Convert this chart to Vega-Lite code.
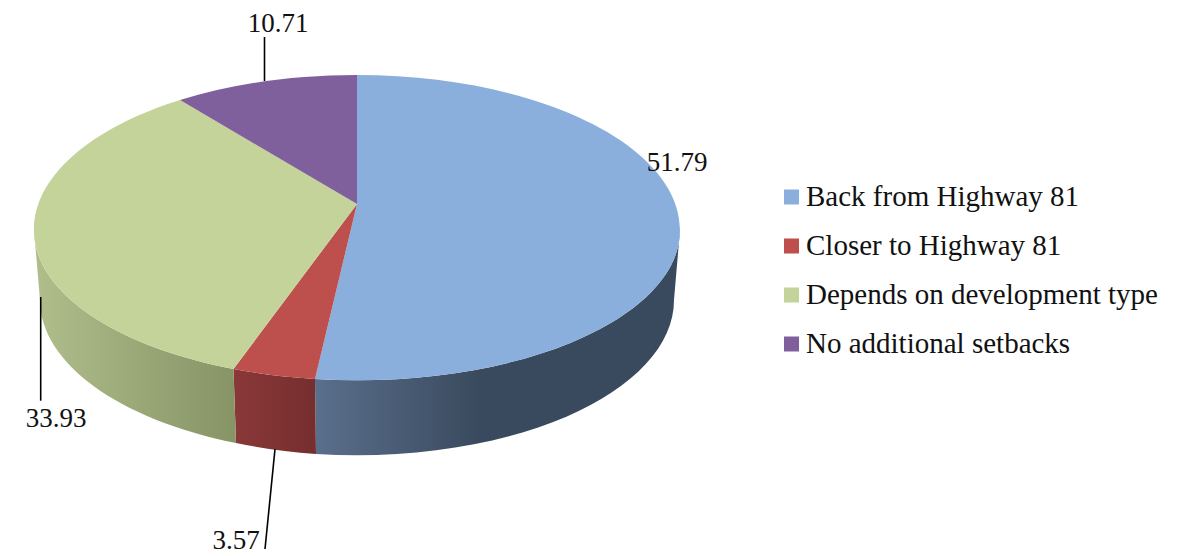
{"$schema":"https://vega.github.io/schema/vega-lite/v6.json","width":1189,"height":556,"padding":0,"autosize":{"type":"none"},"background":"white","view":{"stroke":null},"config":{"font":"Liberation Serif"},"data":{"values":[{"category":"Back from Highway 81","value":51.79},{"category":"Closer to Highway 81","value":3.57},{"category":"Depends on development type","value":33.93},{"category":"No additional setbacks","value":10.71}]},"layer":[
{"transform":[{"filter":"datum.category==='Back from Highway 81'"}],"mark":{"type":"point","filled":true,"opacity":1,"size":4,"shape":"M-279.5,101A323,150 0 0 0 85.5,-48L79.5,22A317,155 0 0 1 -278.5,176Z","fill":{"x1":0,"y1":0,"x2":1,"y2":0,"gradient":"linear","stops":[{"offset":0,"color":"#5A6F8C"},{"offset":0.45,"color":"#3A4A5E"},{"offset":1,"color":"#3A4A5E"}]}}},
{"transform":[{"filter":"datum.category==='Closer to Highway 81'"}],"mark":{"type":"point","filled":true,"opacity":1,"size":4,"shape":"M-361,91A323,150 0 0 0 -279.5,101L-278.5,176A317,155 0 0 1 -358.5,165Z","fill":{"x1":0,"y1":0,"x2":1,"y2":0,"gradient":"linear","stops":[{"offset":0,"color":"#8A3838"},{"offset":1,"color":"#752E2E"}]}}},
{"transform":[{"filter":"datum.category==='Depends on development type'"}],"mark":{"type":"point","filled":true,"opacity":1,"size":4,"shape":"M-560.5,-48A323,150 0 0 0 -361,91L-358.5,165A317,155 0 0 1 -554.5,22Z","fill":{"x1":0,"y1":0,"x2":1,"y2":0,"gradient":"linear","stops":[{"offset":0,"color":"#B0BE8C"},{"offset":1,"color":"#869466"}]}}},
{"transform":[{"filter":"datum.category==='Back from Highway 81'"}],"mark":{"type":"point","filled":true,"opacity":1,"size":4,"shape":"M-237.5,-74L-237.5,-203A323,155 0 0 1 85.5,-48A323,150 0 0 1 -279.5,101Z","fill":"#8BAFDD"}},
{"transform":[{"filter":"datum.category==='Closer to Highway 81'"}],"mark":{"type":"point","filled":true,"opacity":1,"size":4,"shape":"M-237.5,-74L-279.5,101A323,150 0 0 1 -361,91Z","fill":"#BD4F4D"}},
{"transform":[{"filter":"datum.category==='Depends on development type'"}],"mark":{"type":"point","filled":true,"opacity":1,"size":4,"shape":"M-237.5,-74L-361,91A323,150 0 0 1 -560.5,-48A323,155 0 0 1 -414.5,-178Z","fill":"#C3D399"}},
{"transform":[{"filter":"datum.category==='No additional setbacks'"}],"mark":{"type":"point","filled":true,"opacity":1,"size":4,"shape":"M-237.5,-74L-414.5,-178A323,155 0 0 1 -237.5,-203Z","fill":"#80609C"}},
{"mark":{"type":"point","filled":true,"opacity":1,"size":0,"shape":"square"},"encoding":{"color":{"field":"category","type":"nominal","title":null,"scale":{"domain":["Back from Highway 81","Closer to Highway 81","Depends on development type","No additional setbacks"],"range":["#8BAFDD","#BD4F4D","#C3D399","#80609C"]},"legend":{"orient":"none","legendX":777,"legendY":182.5,"symbolType":"square","symbolSize":225,"symbolStrokeWidth":0,"symbolOpacity":1,"labelFont":"Liberation Serif","labelFontSize":29,"labelColor":"#111111","labelOffset":0,"labelLimit":500,"rowPadding":19,"padding":0}}}},
{"transform":[{"filter":"datum.category==='No additional setbacks'"}],"mark":{"type":"point","filled":false,"opacity":1,"size":4,"stroke":"#000000","strokeWidth":1.6,"shape":"M-330,-241L-330,-197"}},
{"transform":[{"filter":"datum.category==='Depends on development type'"}],"mark":{"type":"point","filled":false,"opacity":1,"size":4,"stroke":"#000000","strokeWidth":1.6,"shape":"M-553.8,19L-553.8,122.7"}},
{"transform":[{"filter":"datum.category==='Closer to Highway 81'"}],"mark":{"type":"point","filled":false,"opacity":1,"size":4,"stroke":"#000000","strokeWidth":1.6,"shape":"M-319.5,171L-329.5,271"}},
{"transform":[{"filter":"datum.category==='Back from Highway 81'"}],"mark":{"type":"text","font":"Liberation Serif","fontSize":27,"color":"#111111","align":"center","baseline":"alphabetic","dx":82.5,"dy":-107},"encoding":{"text":{"field":"value","type":"quantitative","format":".2f"}}},
{"transform":[{"filter":"datum.category==='Closer to Highway 81'"}],"mark":{"type":"text","font":"Liberation Serif","fontSize":27,"color":"#111111","align":"center","baseline":"alphabetic","dx":-358.5,"dy":271},"encoding":{"text":{"field":"value","type":"quantitative","format":".2f"}}},
{"transform":[{"filter":"datum.category==='Depends on development type'"}],"mark":{"type":"text","font":"Liberation Serif","fontSize":27,"color":"#111111","align":"center","baseline":"alphabetic","dx":-538.5,"dy":149},"encoding":{"text":{"field":"value","type":"quantitative","format":".2f"}}},
{"transform":[{"filter":"datum.category==='No additional setbacks'"}],"mark":{"type":"text","font":"Liberation Serif","fontSize":27,"color":"#111111","align":"center","baseline":"alphabetic","dx":-316.5,"dy":-246},"encoding":{"text":{"field":"value","type":"quantitative","format":".2f"}}}
]}
